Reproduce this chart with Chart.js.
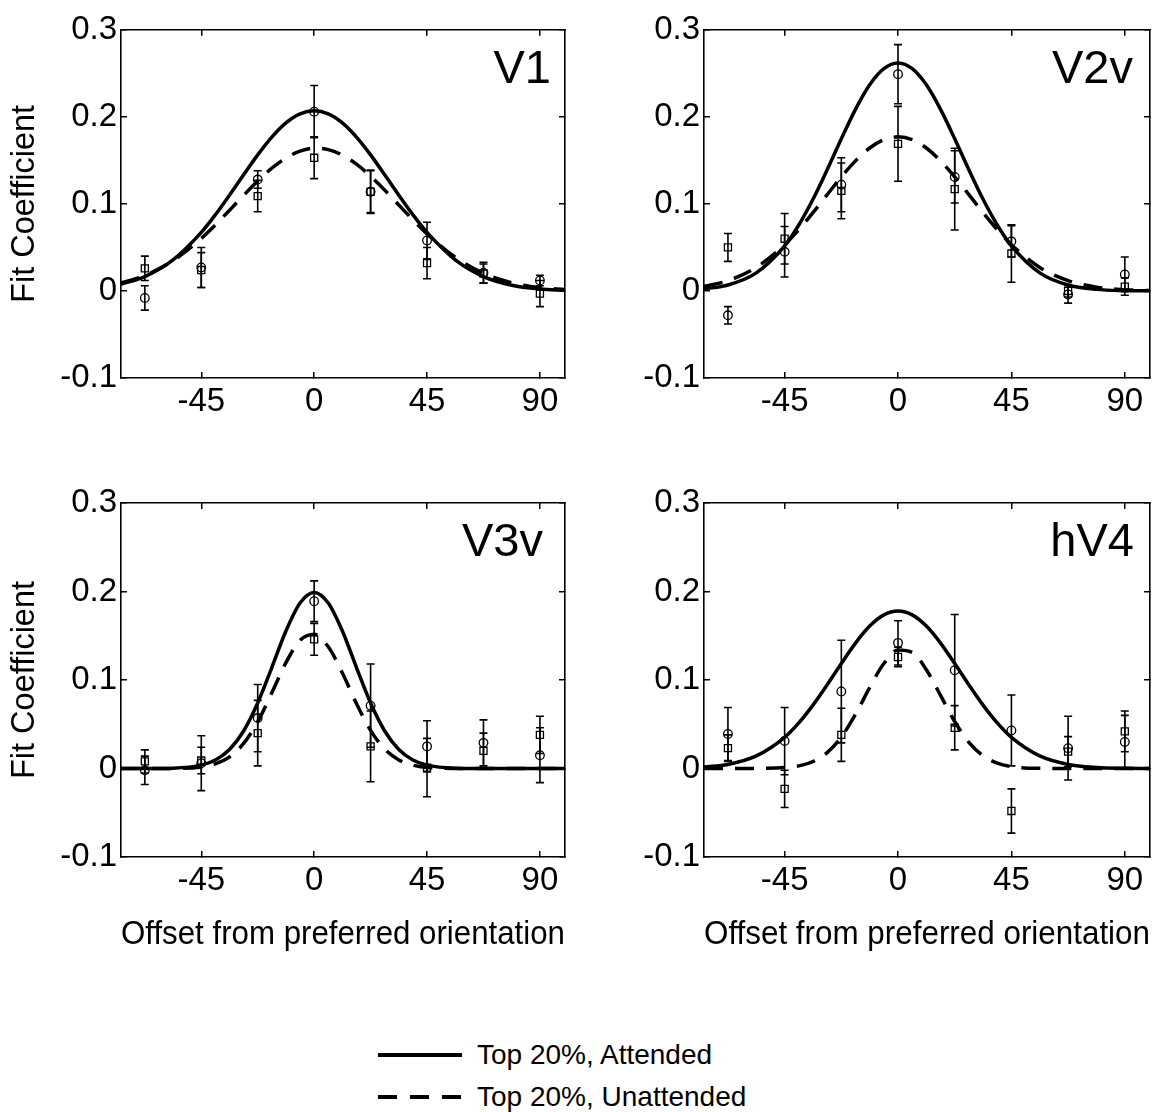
<!DOCTYPE html>
<html>
<head>
<meta charset="utf-8">
<script src="https://cdn.jsdelivr.net/npm/chart.js@4.4.1/dist/chart.umd.min.js"></script>
<style>
  body { margin: 0; background: #fff; }
  #page { position: relative; width: 1157px; height: 1112px; font-family: "Liberation Sans", Arial, sans-serif; }
  canvas { position: absolute; }
  .key { position: absolute; left: 378px; width: 84px; height: 3.5px; }
  .solid { background: #000; }
  .dashed { background: repeating-linear-gradient(to right, #000 0 19px, transparent 19px 32px); }
  .label { position: absolute; left: 477px; font-size: 28px; line-height: 28px; white-space: nowrap; color: #000; }
</style>
</head>
<body>
<div id="page">
  <canvas id="v1" width="580" height="440" style="left:0;top:0"></canvas>
  <canvas id="v2v" width="577" height="440" style="left:580px;top:0"></canvas>
  <canvas id="v3v" width="580" height="497" style="left:0;top:460px"></canvas>
  <canvas id="hv4" width="577" height="497" style="left:580px;top:460px"></canvas>

  <div class="key solid" style="top:1053px"></div>
  <div class="label" style="top:1041px">Top 20%, Attended</div>
  <div class="key dashed" style="top:1095px"></div>
  <div class="label" style="top:1083px">Top 20%, Unattended</div>
</div>
<script>
// orientation offsets of the measured channels, and of the fitted curves
const angles = [-67.5, -45, -22.5, 0, 22.5, 45, 67.5, 90];
const fitAngles = [-77, -67.5, -56.25, -45, -39.375, -33.75, -28.125, -22.5, -16.875, -11.25, -5.625, 0,
  5.625, 11.25, 16.875, 22.5, 28.125, 33.75, 39.375, 45, 56.25, 67.5, 78.75, 90, 100];
const xTicks = [-45, 0, 45, 90];
const yTicks = [-0.1, 0, 0.1, 0.2, 0.3];

// V1
const v1Att = [-0.008, 0.027, 0.128, 0.206, 0.114, 0.058, 0.021, 0.012];
const v1AttErr = [0.014, 0.023, 0.010, 0.030, 0.025, 0.021, 0.012, 0.006];
const v1Unatt = [0.026, 0.024, 0.109, 0.153, 0.114, 0.032, 0.020, -0.003];
const v1UnattErr = [0.014, 0.020, 0.018, 0.024, 0.024, 0.018, 0.011, 0.015];
const v1AttFit = [0.0077, 0.0165, 0.0357, 0.0672, 0.0875, 0.110, 0.1334, 0.1563, 0.1767, 0.193, 0.2034, 0.207,
  0.2034, 0.193, 0.1767, 0.1563, 0.1334, 0.110, 0.0875, 0.0672, 0.0357, 0.0165, 0.0066, 0.0023, 0.0008];
const v1UnattFit = [0.0092, 0.0178, 0.0348, 0.0602, 0.0758, 0.0926, 0.1098, 0.1263, 0.141, 0.1527, 0.1606, 0.164,
  0.1624, 0.156, 0.1456, 0.1318, 0.1158, 0.0987, 0.0817, 0.0656, 0.0387, 0.0202, 0.0094, 0.0039, 0.0016];

// V2v
const v2Att = [-0.028, 0.045, 0.122, 0.249, 0.131, 0.057, -0.004, 0.019];
const v2AttErr = [0.010, 0.029, 0.031, 0.034, 0.030, 0.018, 0.010, 0.020];
const v2Unatt = [0.050, 0.060, 0.115, 0.169, 0.117, 0.043, 0.000, 0.005];
const v2UnattErr = [0.016, 0.029, 0.032, 0.043, 0.047, 0.033, 0.007, 0.010];
const v2AttFit = [0.0023, 0.0068, 0.0208, 0.0518, 0.0758, 0.1053, 0.1391, 0.1748, 0.2086, 0.2368, 0.2554, 0.262,
  0.2554, 0.2368, 0.2086, 0.1748, 0.1391, 0.1053, 0.0758, 0.0518, 0.0208, 0.0068, 0.0018, 0.0004, 0.0001];
const v2UnattFit = [0.0052, 0.0118, 0.027, 0.0531, 0.0704, 0.0899, 0.1106, 0.131, 0.1494, 0.1642, 0.1737, 0.177,
  0.1737, 0.1642, 0.1494, 0.131, 0.1106, 0.0899, 0.0704, 0.0531, 0.027, 0.0118, 0.0044, 0.0014, 0.0005];

// V3v
const v3Att = [-0.002, 0.006, 0.057, 0.189, 0.071, 0.025, 0.029, 0.015];
const v3AttErr = [0.016, 0.031, 0.038, 0.023, 0.047, 0.029, 0.026, 0.031];
const v3Unatt = [0.008, 0.009, 0.040, 0.146, 0.025, 0.001, 0.020, 0.038];
const v3UnattErr = [0.013, 0.015, 0.037, 0.018, 0.040, 0.033, 0.020, 0.021];
const v3AttFit = [0, 0, 0.0004, 0.0038, 0.0096, 0.0215, 0.0424, 0.074, 0.1141, 0.1554, 0.187, 0.199,
  0.187, 0.1554, 0.1141, 0.074, 0.0424, 0.0215, 0.0096, 0.0038, 0.0004, 0, 0, 0, 0];
const v3UnattFit = [0, 0, 0.0001, 0.0018, 0.0053, 0.0131, 0.0283, 0.0529, 0.0855, 0.1196, 0.1448, 0.1517,
  0.1375, 0.1079, 0.0733, 0.0431, 0.0219, 0.0097, 0.0037, 0.0012, 0.0001, 0, 0, 0, 0];

// hV4
const v4Att = [0.039, 0.031, 0.087, 0.142, 0.111, 0.043, 0.023, 0.030];
const v4AttErr = [0.030, 0.038, 0.058, 0.025, 0.063, 0.040, 0.036, 0.030];
const v4Unatt = [0.023, -0.023, 0.038, 0.126, 0.046, -0.048, 0.019, 0.042];
const v4UnattErr = [0.015, 0.021, 0.030, 0.011, 0.025, 0.025, 0.017, 0.023];
const v4AttFit = [0.0016, 0.0046, 0.0142, 0.0352, 0.0515, 0.0716, 0.0945, 0.1187, 0.1417, 0.1609, 0.1736, 0.178,
  0.1736, 0.1609, 0.1417, 0.1187, 0.0945, 0.0716, 0.0515, 0.0352, 0.0142, 0.0046, 0.0012, 0.0003, 0];
const v4UnattFit = [0, 0, 0.0001, 0.001, 0.003, 0.0079, 0.018, 0.0356, 0.0612, 0.0914, 0.1186, 0.1338,
  0.1311, 0.1116, 0.0826, 0.0531, 0.0296, 0.0144, 0.0061, 0.0022, 0.0002, 0, 0, 0, 0];

Chart.defaults.font.family = '"Liberation Sans", Arial, sans-serif';
Chart.defaults.color = '#000';

const errorBars = {
  id: 'errorBars',
  afterDatasetsDraw(chart) {
    const { ctx, scales: { x, y } } = chart;
    chart.data.datasets.forEach((ds) => {
      if (!ds.errors) return;
      ctx.save();
      ctx.strokeStyle = '#000';
      ctx.lineWidth = 1.6;
      ds.data.forEach((p, i) => {
        const px = x.getPixelForValue(p.x);
        const top = y.getPixelForValue(p.y + ds.errors[i]);
        const bot = y.getPixelForValue(p.y - ds.errors[i]);
        ctx.beginPath();
        ctx.moveTo(px, top); ctx.lineTo(px, bot);
        ctx.moveTo(px - 4, top); ctx.lineTo(px + 4, top);
        ctx.moveTo(px - 4, bot); ctx.lineTo(px + 4, bot);
        ctx.stroke();
      });
      ctx.restore();
    });
  }
};

const panelLabel = {
  id: 'panelLabel',
  afterDraw(chart, args, opts) {
    const { ctx, chartArea } = chart;
    ctx.save();
    ctx.font = '47px "Liberation Sans", Arial, sans-serif';
    ctx.fillStyle = '#000';
    ctx.textAlign = 'right';
    ctx.textBaseline = 'middle';
    ctx.fillText(opts.text, chartArea.right - opts.dx, chartArea.top + opts.dy);
    ctx.restore();
  }
};

const grid = { drawOnChartArea: false, tickLength: -6, color: '#000', lineWidth: 1.5 };
const border = { color: '#000', width: 1.6 };
const fixTicks = (values) => (s) => { s.ticks = values.map((v) => ({ value: v })); };

const points = (xs, ys) => xs.map((a, i) => ({ x: a, y: ys[i] }));

function makeChart(id, p) {
  const scales = {
    x: {
      type: 'linear', position: 'bottom', min: -77, max: 100,
      afterBuildTicks: fixTicks(xTicks),
      afterFit: (s) => { s.height = p.xTitle ? 100 : 62; },
      grid, border,
      ticks: { font: { size: 33 }, padding: 10, maxRotation: 0, autoSkip: false, callback: (v) => String(v) },
      title: { display: !!p.xTitle, text: 'Offset from preferred orientation', font: { size: 33.5 }, padding: { top: 0, bottom: 2 } }
    },
    y: {
      type: 'linear', position: 'left', min: -0.1, max: 0.3,
      afterBuildTicks: fixTicks(yTicks),
      afterFit: (s) => { s.width = p.yWidth; },
      grid, border,
      ticks: { font: { size: 33 }, padding: 10, callback: (v) => (Math.abs(v) < 1e-9 ? '0' : v.toFixed(1)) },
      title: { display: !!p.yTitle, text: 'Fit Coefficient', font: { size: 32.5 }, padding: { top: 6, bottom: 0 } }
    },
    x2: {
      type: 'linear', position: 'top', min: -77, max: 100,
      afterBuildTicks: fixTicks(xTicks),
      afterFit: (s) => { s.height = 0; },
      grid, border, ticks: { display: false }
    },
    y2: {
      type: 'linear', position: 'right', min: -0.1, max: 0.3,
      afterBuildTicks: fixTicks(yTicks),
      afterFit: (s) => { s.width = 0; },
      grid, border, ticks: { display: false }
    }
  };

  const curve = { showLine: true, pointRadius: 0, borderColor: '#000', borderWidth: 3.5, cubicInterpolationMode: 'monotone' };
  const marker = { showLine: false, borderColor: '#000', backgroundColor: 'rgba(0,0,0,0)', pointBorderWidth: 1.3 };

  return new Chart(document.getElementById(id), {
    type: 'scatter',
    data: {
      datasets: [
        { ...curve, label: 'Top 20%, Attended', data: points(fitAngles, p.attFit) },
        { ...curve, label: 'Top 20%, Unattended', data: points(fitAngles, p.unattFit), borderDash: [19, 12] },
        { ...marker, data: points(angles, p.att), errors: p.attErr, pointStyle: 'circle', pointRadius: 4.3 },
        { ...marker, data: points(angles, p.unatt), errors: p.unattErr, pointStyle: 'rect', pointRadius: 5 }
      ]
    },
    options: {
      responsive: false,
      animation: false,
      devicePixelRatio: 1,
      layout: { padding: { top: p.top, right: p.right, bottom: 0, left: 0 } },
      scales,
      plugins: {
        legend: { display: false },
        tooltip: { enabled: false },
        panelLabel: { text: p.name, dx: p.dx, dy: 40 }
      }
    },
    plugins: [errorBars, panelLabel]
  });
}

makeChart('v1', { name: 'V1', att: v1Att, attErr: v1AttErr, unatt: v1Unatt, unattErr: v1UnattErr,
  attFit: v1AttFit, unattFit: v1UnattFit, top: 25, right: 15, yWidth: 121, yTitle: true, xTitle: false, dx: 14 });
makeChart('v2v', { name: 'V2v', att: v2Att, attErr: v2AttErr, unatt: v2Unatt, unattErr: v2UnattErr,
  attFit: v2AttFit, unattFit: v2UnattFit, top: 25, right: 7, yWidth: 124, yTitle: false, xTitle: false, dx: 17 });
makeChart('v3v', { name: 'V3v', att: v3Att, attErr: v3AttErr, unatt: v3Unatt, unattErr: v3UnattErr,
  attFit: v3AttFit, unattFit: v3UnattFit, top: 43, right: 15, yWidth: 121, yTitle: true, xTitle: true, dx: 22 });
makeChart('hv4', { name: 'hV4', att: v4Att, attErr: v4AttErr, unatt: v4Unatt, unattErr: v4UnattErr,
  attFit: v4AttFit, unattFit: v4UnattFit, top: 43, right: 7, yWidth: 124, yTitle: false, xTitle: true, dx: 16 });
</script>
</body>
</html>
